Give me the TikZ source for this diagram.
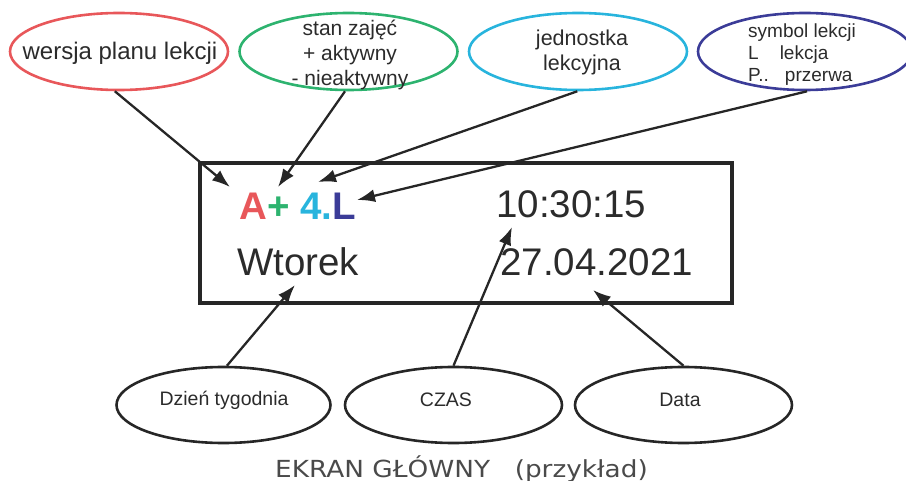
\documentclass[tikz,border=0pt]{standalone}
\usepackage{fontspec}
\usepackage{graphicx}
\setmainfont{Liberation Sans}
\newfontfamily\titlefont{DejaVu Sans}
\usetikzlibrary{shapes.geometric,arrows.meta}
\definecolor{cred}{HTML}{E8575A}
\definecolor{cgreen}{HTML}{2DB36F}
\definecolor{ccyan}{HTML}{28B4DD}
\definecolor{cblue}{HTML}{3B3C98}
\definecolor{txt}{HTML}{2B2B2B}
\definecolor{dark}{HTML}{262626}
\definecolor{capc}{HTML}{4A4A4A}
\tikzset{
  oval/.style={ellipse, line width=2.6pt, inner sep=0pt},
  topoval/.style={oval, minimum width=218pt, minimum height=77pt},
  botoval/.style={oval, draw=dark, minimum width=214pt, minimum height=76pt},
  lbl/.style={text=txt, align=center, inner sep=0pt},
  conn/.style={line width=2.3pt, draw=dark, -{Latex[length=18pt,width=13pt]}},
  bigtxt/.style={text=txt, anchor=base west, inner sep=0pt, font=\fontsize{38.5}{40}\selectfont},
}
\begin{document}
\begin{tikzpicture}[x=1pt,y=-1pt]
\useasboundingbox (0,0) rectangle (906,481);

% top ovals
\node[topoval, draw=cred] (wersja) at (119,51.5) {};
\node[topoval, draw=cgreen] (stan) at (348.5,51.5) {};
\node[topoval, draw=ccyan] (jedn) at (578,51.5) {};
\node[topoval, draw=cblue, minimum width=214pt] (symb) at (805,51.5) {};

\node[lbl, font=\fontsize{24}{28}\selectfont] (wersjaT) at (120,53) {wersja planu lekcji};
\node[lbl, font=\fontsize{21}{25}\selectfont] (stanT) at (350,55) {stan zajęć\\+ aktywny\\- nieaktywny};
\node[lbl, font=\fontsize{21.5}{25}\selectfont] (jednT) at (582,52) {jednostka\\lekcyjna};
\node[lbl, align=left, anchor=west, font=\fontsize{19}{22}\selectfont] (symbT) at (748,55) {symbol lekcji\\L\hspace{21pt}lekcja\\P..\hspace{16pt}przerwa};

% frame
\node[draw=dark, line width=4pt, minimum width=532pt, minimum height=140pt, inner sep=0pt] (frame) at (466,233) {};
\node[bigtxt, font=\bfseries\fontsize{38.5}{40}\selectfont] (sym) at (239,220)
  {\textcolor{cred}{A}\textcolor{cgreen}{+} \textcolor{ccyan}{4.}\textcolor{cblue}{L}};
\node[bigtxt] (czas) at (496,218) {10:30:15};
\node[bigtxt] (wtorek) at (237,276) {Wtorek};
\node[bigtxt] (data) at (500,276) {27.04.2021};

% bottom ovals
\node[botoval] (dzien) at (223.5,405) {};
\node[botoval, minimum width=217pt] (czasO) at (453.5,405) {};
\node[botoval, minimum width=217pt] (dataO) at (683.5,405) {};
\node[lbl, font=\fontsize{19.5}{22}\selectfont] (dzienT) at (224,400) {Dzień tygodnia};
\node[lbl, font=\fontsize{19.5}{22}\selectfont] (czasT) at (446,400) {CZAS};
\node[lbl, font=\fontsize{19.5}{22}\selectfont] (dataT) at (680,400) {Data};

% arrow tips
\coordinate (tA) at (230,187);
\coordinate (tP) at (278,187);
\coordinate (tJ) at (318,182);
\coordinate (tL) at (357,200);
\coordinate (tW) at (295,285);
\coordinate (tC) at (512,227);
\coordinate (tD) at (593,290);

\draw[conn] (wersja.-96) -- (tA);
\draw[conn] (stan.-95) -- (tP);
\draw[conn] (jedn.-91.5) -- (tJ);
\draw[conn] (symb.-87) -- (tL);
\draw[conn] (dzien.85) -- (tW);
\draw[conn] (czasO.90) -- (tC);
\draw[conn] (dataO.90) -- (tD);

% caption
\node[anchor=base, inner sep=0pt, text=capc, font=\titlefont\fontsize{23.5}{26}\selectfont] (title) at (461.5,477)
  {\scalebox{1.12}[1]{EKRAN GŁÓWNY\hspace{22pt}(przykład)}};
\end{tikzpicture}
\end{document}
